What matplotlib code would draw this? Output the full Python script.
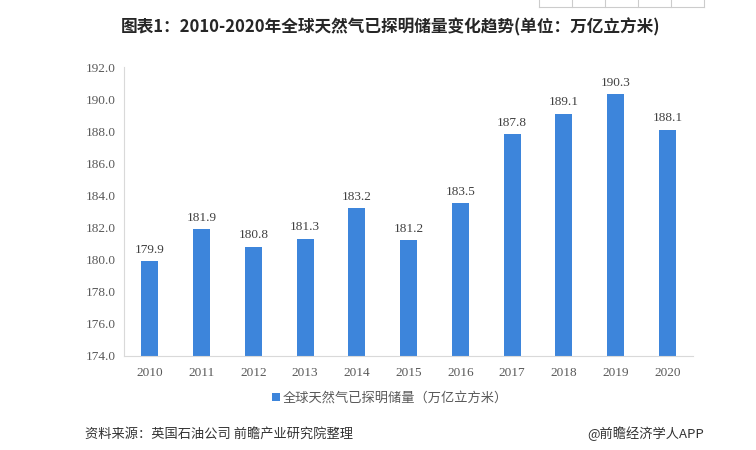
import matplotlib
matplotlib.use('Agg')
import matplotlib.pyplot as plt

# data
years = ['2010', '2011', '2012', '2013', '2014', '2015', '2016', '2017', '2018', '2019', '2020']
reserves = [179.9, 181.9, 180.8, 181.3, 183.2, 181.2, 183.5, 187.8, 189.1, 190.3, 188.1]
yticks = [174, 176, 178, 180, 182, 184, 186, 188, 190, 192]

title = '图表1：2010-2020年全球天然气已探明储量变化趋势(单位：万亿立方米)'
legend_label = '全球天然气已探明储量（万亿立方米）'
source = '资料来源：英国石油公司 前瞻产业研究院整理'
credit = '@前瞻经济学人APP'

cjk = ['Noto Sans CJK SC', 'DejaVu Sans']
serif = 'Liberation Serif'
bar_color = '#3D85DB'
gray = '#595959'

fig = plt.figure(figsize=(7.56, 4.5), dpi=100)
ax = fig.add_axes([0.164, 0.209, 0.753, 0.642])

x = range(len(years))
bars = ax.bar(x, reserves, width=0.33, color=bar_color, label=legend_label, zorder=2)

for xi, v in zip(x, reserves):
    ax.text(xi, v + 0.35, '%.1f' % v, ha='center', va='bottom',
            fontsize=9.5, family=serif, color='#404040')

ax.set_xlim(-0.5, len(years) - 0.5)
ax.set_ylim(174, 192)
ax.set_yticks(yticks)
ax.set_yticklabels(['%.1f' % t for t in yticks], family=serif, fontsize=9.5, color=gray)
ax.set_xticks(list(x))
ax.set_xticklabels(years, family=serif, fontsize=9.5, color=gray)
ax.tick_params(length=0, pad=8)
ax.tick_params(axis='y', pad=6)

for s in ['top', 'right']:
    ax.spines[s].set_visible(False)
ax.spines['left'].set_color('#d9d9d9')
ax.spines['bottom'].set_color('#d9d9d9')

leg = fig.legend(handles=[bars], labels=[legend_label], loc='center',
                 bbox_to_anchor=(390 / 756, 1 - 398 / 450), frameon=False,
                 prop={'family': cjk, 'size': 9.5}, handlelength=0.6, handleheight=0.6,
                 handletextpad=0.2)
for t in leg.get_texts():
    t.set_color(gray)

fig.text(391 / 756, 1 - 27 / 450, title, ha='center', va='center',
         fontsize=12, fontweight='bold', family=cjk, color='#262626')
fig.text(85 / 756, 1 - 434 / 450, source, ha='left', va='center',
         fontsize=9.5, family=cjk, color='#333333')
fig.text(704 / 756, 1 - 434 / 450, credit, ha='right', va='center',
         fontsize=9.5, family=cjk, color='#333333')

# table edge at the top right of the screenshot
fig.add_artist(plt.Line2D([539 / 756, 704 / 756], [1 - 7 / 450] * 2,
                          color='#cccccc', lw=0.8))
for xl in [539, 572, 605, 638, 671, 704]:
    fig.add_artist(plt.Line2D([xl / 756] * 2, [1, 1 - 7 / 450],
                              color='#cccccc', lw=0.8))

fig.savefig('out.png', dpi=100, facecolor='white')
